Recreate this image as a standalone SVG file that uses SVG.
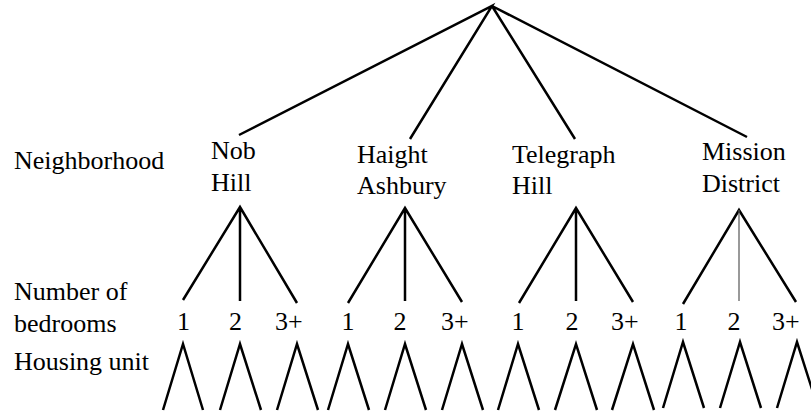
<svg xmlns="http://www.w3.org/2000/svg" width="811" height="415" viewBox="0 0 811 415">
<style>
.e{stroke:#000;stroke-width:2.5;fill:none;stroke-linecap:butt;stroke-linejoin:miter}
.thin{stroke:#555;stroke-width:1.2}
</style>
<rect width="811" height="415" fill="#fff"/>
<g id="connectors">
<path class="e" d="M239,135 L492,6 L410,139 M492,6 L575,139 M492,6 L747,137"/>
<path class="e" d="M183,300 L240,207 L297,303 M240,207 L240,301"/>
<path class="e" d="M348,303 L405,208 L462,302 M405,208 L405,301"/>
<path class="e" d="M519,303 L576,208 L633,302 M576,208 L576,301"/>
<path class="e" d="M683,304 L739,210 L796,302"/>
<path class="e thin" d="M739,210 L739,301"/>
<path class="e" d="M163,410 L183,344 L203,410 M220,410 L240,344 L261,410 M277,410 L297,344 L318,410"/>
<path class="e" d="M328,410 L348,344 L369,410 M385,410 L405,344 L426,410 M442,410 L462,344 L483,410"/>
<path class="e" d="M498,410 L518,344 L539,410 M555,410 L576,344 L597,410 M612,410 L633,344 L654,410"/>
<path class="e" d="M663,408 L683,342 L704,408 M720,408 L740,342 L761,408 M777,408 L797,342 L818,408"/>
</g>
<g font-family="'Liberation Serif', Tinos, 'Times New Roman', Times, 'Noto Serif', 'DejaVu Serif', serif" font-size="26" fill="#000">
<g id="labels">
<text x="14" y="169">Neighborhood</text>
<text x="14" y="300">Number of</text>
<text x="14" y="332">bedrooms</text>
<text x="14" y="370">Housing unit</text>
</g>
<g id="nob-hill"><text x="211" y="159">Nob</text><text x="211" y="191">Hill</text></g>
<g id="haight-ashbury"><text x="357" y="163">Haight</text><text x="357" y="194">Ashbury</text></g>
<g id="telegraph-hill"><text x="512" y="163">Telegraph</text><text x="512" y="194">Hill</text></g>
<g id="mission-district"><text x="702" y="160">Mission</text><text x="702" y="192">District</text></g>
<g id="nob-bedrooms"><text x="177" y="330">1</text><text x="229" y="330">2</text><text x="275" y="330">3+</text></g>
<g id="haight-bedrooms"><text x="341.5" y="330">1</text><text x="393.5" y="330">2</text><text x="441" y="330">3+</text></g>
<g id="telegraph-bedrooms"><text x="511.5" y="330">1</text><text x="565.5" y="330">2</text><text x="611" y="330">3+</text></g>
<g id="mission-bedrooms"><text x="674.5" y="330">1</text><text x="727.5" y="330">2</text><text x="772" y="330">3+</text></g>
</g>
</svg>
